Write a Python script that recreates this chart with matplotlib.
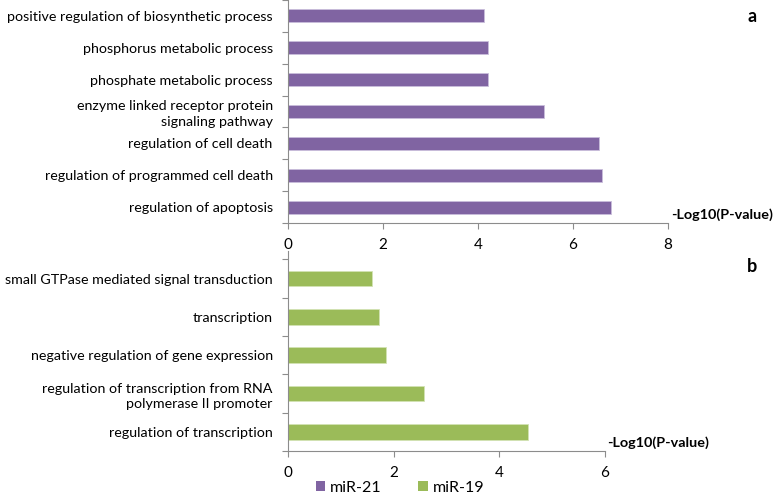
import matplotlib.pyplot as plt
from matplotlib.patches import Patch
import numpy as np

# miR-21 GO terms (top to bottom as drawn)
terms_21 = [
    'positive regulation of biosynthetic process',
    'phosphorus metabolic process',
    'phosphate metabolic process',
    'enzyme linked receptor protein\nsignaling pathway',
    'regulation of cell death',
    'regulation of programmed cell death',
    'regulation of apoptosis',
]
vals_21 = [4.12, 4.21, 4.21, 5.38, 6.55, 6.62, 6.80]

# miR-19 GO terms
terms_19 = [
    'small GTPase mediated signal transduction',
    'transcription',
    'negative regulation of gene expression',
    'regulation of transcription from RNA\npolymerase II promoter',
    'regulation of transcription',
]
vals_19 = [1.59, 1.73, 1.86, 2.57, 4.54]

purple = '#8064a2'
green = '#9bbb59'
axis_gray = '#8c8c8c'

plt.rcParams['font.family'] = ['Lato', 'DejaVu Sans']
fs = 10.3

fig = plt.figure(figsize=(7.78, 4.94), dpi=100)
W, H = 778, 494


def panel(left, top, right, bottom, terms, vals, color, xmax, letter, letter_y, top_extra):
    ax = fig.add_axes([left / W, 1 - bottom / H, (right - left) / W, (bottom - top) / H])
    y = np.arange(len(terms))
    ax.barh(y, vals, height=0.41, color=color,
            edgecolor='#c9bedb' if color == purple else '#d3e3b4', linewidth=0.6)
    ax.set_ylim(len(terms) - 0.5, -0.5 - top_extra)
    ax.set_xlim(0, xmax)
    ax.set_xticks(np.arange(0, xmax + 1, 2))
    ax.set_yticks(np.arange(-0.5, len(terms), 1.0))
    ax.set_yticklabels([])
    ax.set_yticks(y, minor=True)
    ax.set_yticklabels(terms, minor=True, fontsize=fs, ha='right', linespacing=1.3)
    ax.tick_params(axis='y', which='minor', length=0, pad=11)
    ax.tick_params(axis='y', which='major', length=4, color=axis_gray, width=0.8)
    ax.tick_params(axis='x', length=4, color=axis_gray, width=0.8, labelsize=11, pad=7)
    for s in ['top', 'right']:
        ax.spines[s].set_visible(False)
    for s in ['left', 'bottom']:
        ax.spines[s].set_color(axis_gray)
        ax.spines[s].set_linewidth(0.8)
    ax.text(1.008, 0.008, '-Log10(P-value)', transform=ax.transAxes, ha='left', va='bottom',
            fontsize=10.4, fontweight='bold')
    fig.text(752 / W, 1 - letter_y / H, letter, fontsize=13, fontweight='bold',
             ha='center', va='center')
    return ax


panel(288, 0, 668, 223, terms_21, vals_21, purple, 8, 'a', 17, 0.0)
panel(288, 251, 605, 451, terms_19, vals_19, green, 6, 'b', 266, 0.22)

handles = [Patch(facecolor=purple, edgecolor='none', label='miR-21'),
           Patch(facecolor=green, edgecolor='none', label='miR-19')]
fig.legend(handles=handles, loc='center', bbox_to_anchor=(400 / W, 1 - 488 / H), ncol=2,
           frameon=False, fontsize=11.5, handlelength=0.6, handleheight=0.6, handletextpad=0.3,
           columnspacing=2.3)

fig.savefig('out.png', dpi=100)
